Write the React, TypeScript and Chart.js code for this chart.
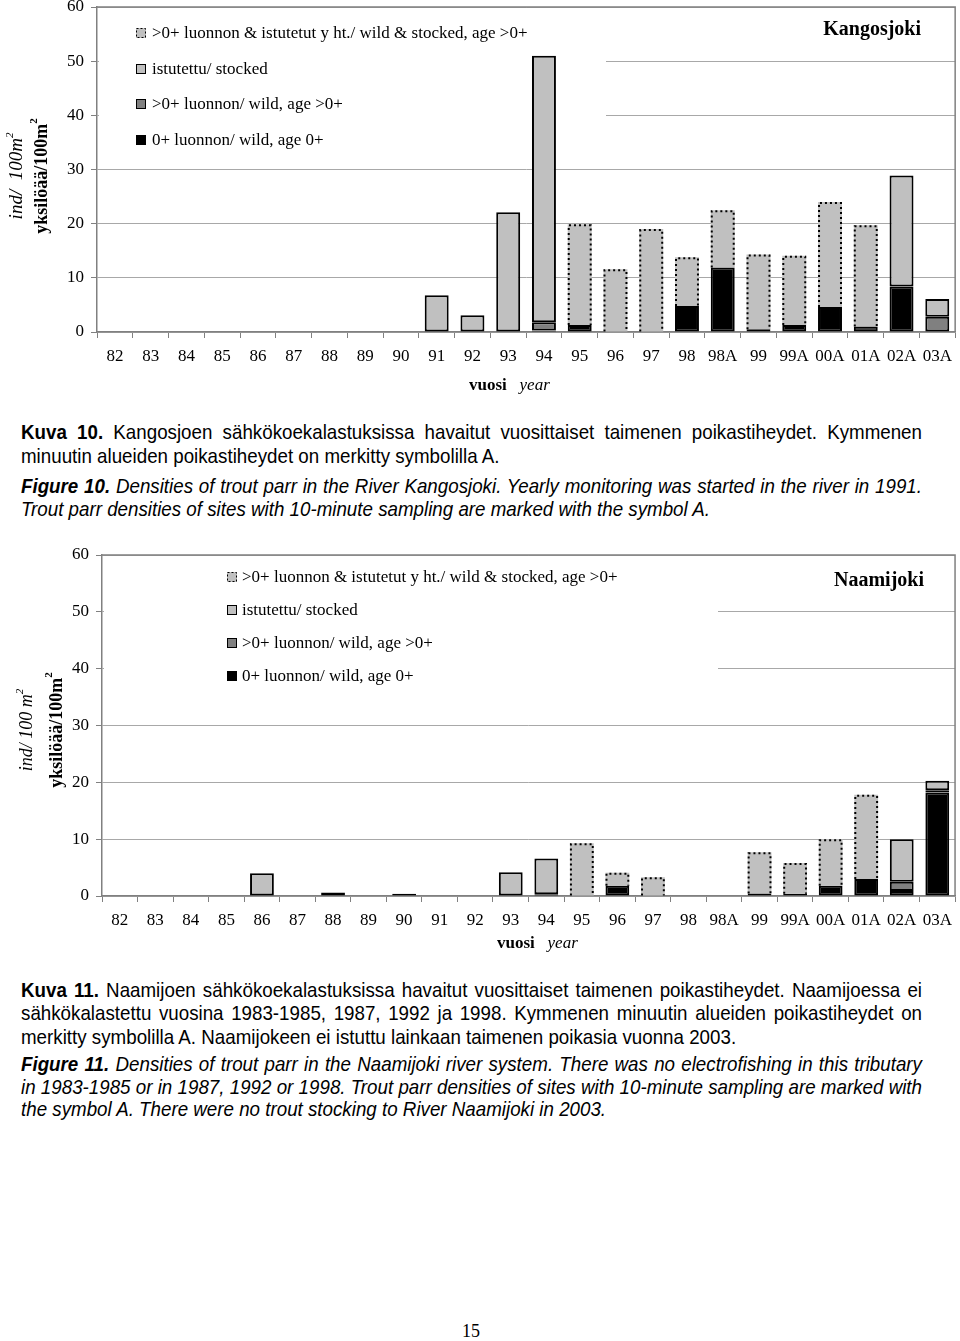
import React, { useEffect, useRef } from 'react';
import { Chart, registerables } from 'chart.js';

Chart.register(...registerables);

const SERIF = '"Liberation Serif", "Times New Roman", serif';
const SANS = '"Liberation Sans", Arial, sans-serif';

// ---------- data ----------
const YEARS = ['82', '83', '84', '85', '86', '87', '88', '89', '90', '91', '92', '93', '94', '95', '96', '97', '98', '98A', '99', '99A', '00A', '01A', '02A', '03A'];
const Y_TICKS = [0, 10, 20, 30, 40, 50, 60];

const LEGEND_LABELS = [
  '>0+ luonnon & istutetut y ht./ wild & stocked, age >0+',
  'istutettu/ stocked',
  '>0+ luonnon/ wild, age >0+',
  '0+ luonnon/ wild, age 0+',
];

// Kangosjoki
const K_WILD0 = [null, null, null, null, null, null, null, null, null, null, null, null, 0.3, 1.3, null, null, 4.8, 11.9, 0.5, 1.3, 4.6, 1.0, 8.4, null];
const K_WILD_OLD = [null, null, null, null, null, null, null, null, null, null, null, null, 1.5, null, null, null, null, null, null, null, null, null, null, 2.8];
const K_STOCKED = [null, null, null, null, null, null, null, null, null, 6.8, 3.1, 22.1, 49.2, null, null, null, null, null, null, null, null, null, 20.5, 3.3];
const K_COMBINED = [null, null, null, null, null, null, null, null, null, null, null, null, null, 18.6, 11.6, 19.0, 9.0, 10.6, 13.8, 12.8, 19.4, 18.7, null, null];

// Naamijoki
const N_WILD0 = [null, null, null, null, null, null, null, null, 0.4, null, null, null, 0.3, null, 1.8, null, null, null, 0.45, 0.4, 1.8, 3.0, 0.9, 18.2];
const N_WILD_OLD = [null, null, null, null, null, null, 0.6, null, null, null, null, null, null, null, null, null, null, null, null, null, null, null, 1.6, 0.4];
const N_STOCKED = [null, null, null, null, 4.0, null, null, null, null, null, null, 4.2, 6.3, null, null, null, null, null, null, null, null, null, 7.5, 1.7];
const N_COMBINED = [null, null, null, null, null, null, null, null, null, null, null, null, null, 9.3, 2.3, 3.3, null, null, 7.25, 5.4, 8.2, 14.8, null, null];

const C_BLACK = '#000000';
const C_DARK = '#808080';
const C_LIGHT = '#c0c0c0';
const C_AXIS = '#808080';
const C_GRID = '#a8a8a8';

type Part = { t: string; font: string; dy?: number };

function drawRich(ctx: CanvasRenderingContext2D, parts: Part[], x: number, y: number, align: string) {
  let total = 0;
  parts.forEach((p) => {
    ctx.font = p.font;
    total += ctx.measureText(p.t).width;
  });
  let cx = align === 'center' ? x - total / 2 : align === 'right' ? x - total : x;
  ctx.textAlign = 'left';
  ctx.textBaseline = 'middle';
  parts.forEach((p) => {
    ctx.font = p.font;
    ctx.fillText(p.t, cx, y + (p.dy || 0));
    cx += ctx.measureText(p.t).width;
  });
}

type Cfg = {
  top: number;
  height: number;
  yAxisWidth: number;
  xAxisHeight: number;
  wild0: (number | null)[];
  wildOld: (number | null)[];
  stocked: (number | null)[];
  combined: (number | null)[];
  river: string;
  riverRight: number;
  riverY: number;
  legendBox: [number, number, number, number];
  legendSymX: number;
  legendTextX: number;
  legendRows: number[];
  indText: string;
  indSize: number;
  indX: number;
  yksX: number;
  yTitleY: number;
  xTitleX: number;
  xTitleY: number;
};

function makeDecor(cfg: Cfg) {
  const py = (v: number) => v - cfg.top;
  return {
    id: 'decor',
    beforeDatasetsDraw(chart: any) {
      const ctx: CanvasRenderingContext2D = chart.ctx;
      const a = chart.chartArea;
      ctx.save();
      // frame (top and right)
      ctx.strokeStyle = C_AXIS;
      ctx.lineWidth = 1.5;
      ctx.beginPath();
      ctx.moveTo(a.left, a.top);
      ctx.lineTo(a.right, a.top);
      ctx.lineTo(a.right, a.bottom);
      ctx.stroke();
      // legend box
      const [x0, y0, x1, y1] = cfg.legendBox;
      ctx.fillStyle = '#ffffff';
      ctx.fillRect(x0, py(y0), x1 - x0, py(y1) - py(y0));
      // legend entries
      const fills = [C_LIGHT, C_LIGHT, C_DARK, C_BLACK];
      cfg.legendRows.forEach((ry, i) => {
        const cy = py(ry);
        const sx = cfg.legendSymX;
        ctx.fillStyle = fills[i];
        ctx.fillRect(sx, cy - 5, 10, 10);
        ctx.strokeStyle = '#000';
        ctx.lineWidth = 1;
        if (i === 0) ctx.setLineDash([2, 2]);
        else ctx.setLineDash([]);
        ctx.strokeRect(sx + 0.5, cy - 4.5, 9, 9);
        ctx.setLineDash([]);
        ctx.fillStyle = '#000';
        drawRich(ctx, [{ t: LEGEND_LABELS[i], font: `17px ${SERIF}` }], cfg.legendTextX, cy + 1, 'left');
      });
      ctx.restore();
    },
    afterDatasetsDraw(chart: any) {
      const ctx: CanvasRenderingContext2D = chart.ctx;
      const meta = chart.getDatasetMeta(3);
      const data = chart.data.datasets[3].data;
      ctx.save();
      ctx.strokeStyle = '#000';
      ctx.lineWidth = 2;
      ctx.setLineDash([2, 3]);
      meta.data.forEach((el: any, i: number) => {
        if (data[i] == null) return;
        const { x, y, base, width } = el.getProps(['x', 'y', 'base', 'width'], true);
        const l = x - width / 2 + 1;
        const r = x + width / 2 - 1;
        ctx.beginPath();
        ctx.moveTo(l, base);
        ctx.lineTo(l, y + 1);
        ctx.lineTo(r, y + 1);
        ctx.lineTo(r, base);
        ctx.stroke();
      });
      ctx.restore();
    },
    afterDraw(chart: any) {
      const ctx: CanvasRenderingContext2D = chart.ctx;
      ctx.save();
      ctx.fillStyle = '#000';
      // river name
      drawRich(ctx, [{ t: cfg.river, font: `bold 20px ${SERIF}` }], cfg.riverRight, py(cfg.riverY), 'right');
      // y titles (rotated)
      const yy = py(cfg.yTitleY);
      ctx.save();
      ctx.translate(cfg.indX, yy);
      ctx.rotate(-Math.PI / 2);
      drawRich(ctx, [
        { t: cfg.indText, font: `italic ${cfg.indSize}px ${SERIF}` },
        { t: '2', font: `italic 11px ${SERIF}`, dy: -7 },
      ], 0, 0, 'center');
      ctx.restore();
      ctx.save();
      ctx.translate(cfg.yksX, yy);
      ctx.rotate(-Math.PI / 2);
      drawRich(ctx, [
        { t: 'yksilöää/100m', font: `bold 18px ${SERIF}` },
        { t: '2', font: `bold 11px ${SERIF}`, dy: -8 },
      ], 0, 0, 'center');
      ctx.restore();
      // x title
      drawRich(ctx, [
        { t: 'vuosi', font: `bold 17px ${SERIF}` },
        { t: '   ', font: `17px ${SERIF}` },
        { t: 'year', font: `italic 17px ${SERIF}` },
      ], cfg.xTitleX, py(cfg.xTitleY), 'left');
      ctx.restore();
    },
  };
}

function RiverChart({ cfg }: { cfg: Cfg }) {
  const ref = useRef<HTMLCanvasElement>(null);
  useEffect(() => {
    if (!ref.current) return;
    const tickFont = { family: SERIF, size: 17 };
    const chart = new Chart(ref.current, {
      type: 'bar',
      data: {
        labels: YEARS,
        datasets: [
          { label: LEGEND_LABELS[3], data: cfg.wild0, backgroundColor: C_BLACK, borderColor: '#000', borderWidth: 2, borderSkipped: false },
          { label: LEGEND_LABELS[2], data: cfg.wildOld, backgroundColor: C_DARK, borderColor: '#000', borderWidth: 2, borderSkipped: false },
          { label: LEGEND_LABELS[1], data: cfg.stocked, backgroundColor: C_LIGHT, borderColor: '#000', borderWidth: 2, borderSkipped: false },
          { label: LEGEND_LABELS[0], data: cfg.combined, backgroundColor: C_LIGHT, borderWidth: 0 },
        ] as any,
      },
      options: {
        responsive: false,
        animation: false,
        devicePixelRatio: 1,
        layout: { padding: { top: 20, right: 4, left: 0, bottom: 0 } },
        datasets: { bar: { barPercentage: 0.67, categoryPercentage: 1 } },
        plugins: { legend: { display: false }, tooltip: { enabled: false }, title: { display: false } },
        scales: {
          x: {
            stacked: true,
            afterFit: (s: any) => { s.height = cfg.xAxisHeight; },
            grid: { offset: true, drawOnChartArea: false, drawTicks: true, tickLength: 6, color: C_AXIS },
            border: { color: C_AXIS, width: 1.5 },
            ticks: { font: tickFont, color: '#000', padding: 8, maxRotation: 0, autoSkip: false },
          },
          y: {
            stacked: true,
            min: 0,
            max: 60,
            afterFit: (s: any) => { s.width = cfg.yAxisWidth; },
            afterBuildTicks: (s: any) => { s.ticks = Y_TICKS.map((v) => ({ value: v })); },
            grid: { color: C_GRID, tickLength: 6, tickColor: C_AXIS, lineWidth: 1 },
            border: { color: C_AXIS, width: 1.5 },
            ticks: { font: tickFont, color: '#000', padding: 7 },
          },
        },
      } as any,
      plugins: [makeDecor(cfg)],
    });
    return () => chart.destroy();
  }, []);
  return (
    <canvas
      ref={ref}
      width={960}
      height={cfg.height}
      style={{ position: 'absolute', left: 0, top: cfg.top, width: 960, height: cfg.height }}
    />
  );
}

const CFG_K: Cfg = {
  top: -13,
  height: 410,
  yAxisWidth: 97,
  xAxisHeight: 65,
  wild0: K_WILD0,
  wildOld: K_WILD_OLD,
  stocked: K_STOCKED,
  combined: K_COMBINED,
  river: 'Kangosjoki',
  riverRight: 921,
  riverY: 30,
  legendBox: [99, 8, 606, 158],
  legendSymX: 136,
  legendTextX: 152,
  legendRows: [33, 69, 104, 140],
  indText: 'ind/  100m',
  indSize: 19,
  indX: 17,
  yksX: 42,
  yTitleY: 176,
  xTitleX: 469,
  xTitleY: 386,
};

const CFG_N: Cfg = {
  top: 535,
  height: 430,
  yAxisWidth: 102,
  xAxisHeight: 69,
  wild0: N_WILD0,
  wildOld: N_WILD_OLD,
  stocked: N_STOCKED,
  combined: N_COMBINED,
  river: 'Naamijoki',
  riverRight: 924,
  riverY: 581,
  legendBox: [104, 556, 718, 700],
  legendSymX: 227,
  legendTextX: 242,
  legendRows: [577, 610, 643, 676],
  indText: 'ind/ 100 m',
  indSize: 18,
  indX: 27,
  yksX: 57,
  yTitleY: 730,
  xTitleX: 497,
  xTitleY: 944,
};

const CAP_SCALE = 0.893;
const CAP_WIDTH = 901;

function Line({ y, justify, children }: { y: number; justify?: boolean; children: any }) {
  return (
    <div
      style={{
        position: 'absolute',
        left: 21,
        width: CAP_WIDTH / CAP_SCALE,
        top: y - 11.5,
        height: 23,
        lineHeight: '23px',
        fontFamily: SANS,
        fontSize: 21,
        color: '#000',
        textAlign: justify ? 'justify' : 'left',
        textAlignLast: justify ? 'justify' : 'left',
        whiteSpace: 'normal',
        transform: `scaleX(${CAP_SCALE})`,
        transformOrigin: '0 50%',
      } as any}
    >
      {children}
    </div>
  );
}

export default function App() {
  return (
    <div style={{ position: 'absolute', left: 0, top: 0, width: 960, height: 1341, background: '#fff', overflow: 'hidden' }}>
      <RiverChart cfg={CFG_K} />
      <RiverChart cfg={CFG_N} />

      <Line y={431} justify>
        <b>Kuva 10.</b> Kangosjoen sähkökoekalastuksissa havaitut vuosittaiset taimenen poikastiheydet. Kymmenen
      </Line>
      <Line y={455}>minuutin alueiden poikastiheydet on merkitty symbolilla A.</Line>
      <Line y={485} justify>
        <b><i>Figure 10.</i></b> <i>Densities of trout parr in the River Kangosjoki. Yearly monitoring was started in the river in 1991.</i>
      </Line>
      <Line y={508}>
        <i>Trout parr densities of sites with 10-minute sampling are marked with the symbol A.</i>
      </Line>

      <Line y={989} justify>
        <b>Kuva 11.</b> Naamijoen sähkökoekalastuksissa havaitut vuosittaiset taimenen poikastiheydet. Naamijoessa ei
      </Line>
      <Line y={1012} justify>
        sähkökalastettu vuosina 1983-1985, 1987, 1992 ja 1998. Kymmenen minuutin alueiden poikastiheydet on
      </Line>
      <Line y={1036}>merkitty symbolilla A. Naamijokeen ei istuttu lainkaan taimenen poikasia vuonna 2003.</Line>
      <Line y={1063} justify>
        <b><i>Figure 11.</i></b> <i>Densities of trout parr in the Naamijoki river system. There was no electrofishing in this tributary</i>
      </Line>
      <Line y={1086} justify>
        <i>in 1983-1985 or in 1987, 1992 or 1998. Trout parr densities of sites with 10-minute sampling are marked with</i>
      </Line>
      <Line y={1108}>
        <i>the symbol A. There were no trout stocking to River Naamijoki in 2003.</i>
      </Line>

      <div
        style={{
          position: 'absolute',
          left: 441,
          width: 60,
          top: 1320,
          height: 22,
          lineHeight: '22px',
          textAlign: 'center',
          fontFamily: SERIF,
          fontSize: 18,
          color: '#000',
        }}
      >
        15
      </div>
    </div>
  );
}
